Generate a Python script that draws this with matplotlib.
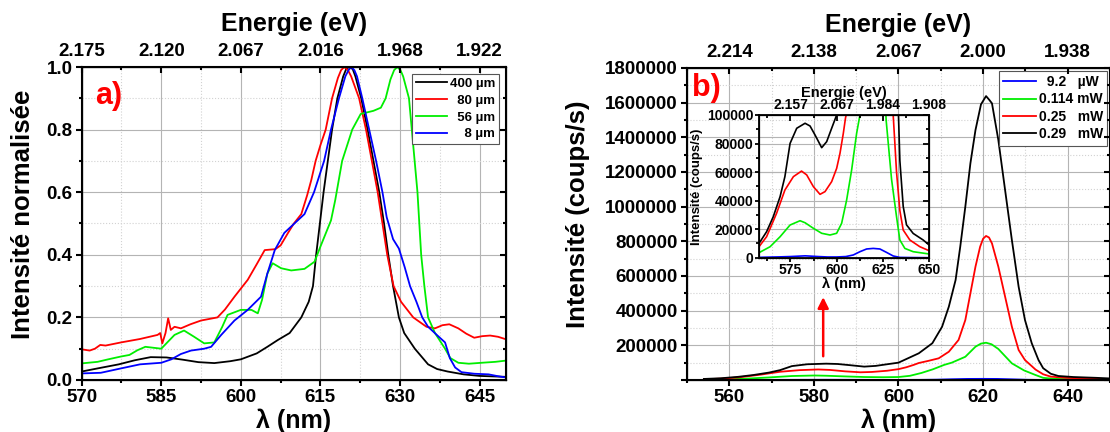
import matplotlib
matplotlib.use("Agg")
import matplotlib.pyplot as plt
from matplotlib.ticker import MultipleLocator, FuncFormatter

plt.rcParams["font.family"] = ["Liberation Sans", "DejaVu Sans"]
plt.rcParams["font.weight"] = "bold"
plt.rcParams["axes.labelweight"] = "bold"

HC = 1240.0  # eV*nm, for the energy axis

# ---- panel a: normalised spectra for different sizes ----
a_labels = ["400 µm", "  80 µm", "  56 µm", "    8 µm"]
a_colors = ["#000000", "#ff0000", "#00ee00", "#0000ff"]

a_wl_400 = [570, 573, 577, 580, 583, 586, 589, 592, 595, 598, 600, 603, 605, 607, 609.2,
            611.4, 612.8, 613.6, 614.2, 614.9, 615.6, 616.4, 617.2, 618.2, 619.3, 619.9, 620.5,
            621.1, 621.6, 622.7, 623.9, 625, 626.1, 627, 627.8, 628.7, 629.8, 630.8, 632.8, 635.3,
            637, 639, 642, 645, 650]
a_int_400 = [0.027, 0.037, 0.05, 0.063, 0.073, 0.072, 0.065, 0.057, 0.054, 0.06, 0.066, 0.085,
             0.106, 0.128, 0.15, 0.2, 0.25, 0.3, 0.4, 0.5, 0.6, 0.7, 0.8, 0.9, 0.97, 0.995, 1.0,
             0.993, 0.97, 0.9, 0.8, 0.7, 0.6, 0.5, 0.4, 0.3, 0.2, 0.15, 0.1, 0.05,
             0.035, 0.027, 0.018, 0.013, 0.01]

a_wl_80 = [570, 571.5, 572.5, 573.5, 574.5, 577.4, 581, 584.3, 584.8, 585.2, 585.8, 586.3,
           586.8, 587.5, 588.7, 590.5, 592.5, 595.6, 597, 598.8, 601.3, 603, 604.5, 606.5,
           607.5, 608.9, 610, 611.4, 612.5, 613.3, 614.1, 615, 616, 617.2, 618.3, 618.9, 619.5,
           620.2, 620.8, 622.3, 623.6, 624.7, 625.8, 626.7, 627.6, 628.8, 630.2, 632.5, 635, 636.6,
           638, 639.3, 641, 642.5, 644, 645.5, 647, 648.5, 650]
a_int_80 = [0.098, 0.094, 0.1, 0.112, 0.11, 0.12, 0.131, 0.144, 0.15, 0.117, 0.15, 0.197,
            0.16, 0.17, 0.165, 0.178, 0.19, 0.2, 0.225, 0.266, 0.32, 0.37, 0.415, 0.418,
            0.43, 0.47, 0.5, 0.53, 0.59, 0.64, 0.7, 0.75, 0.8, 0.9, 0.965, 0.99, 1.0,
            0.99, 0.97, 0.9, 0.8, 0.7, 0.6, 0.5, 0.4, 0.3, 0.25, 0.2, 0.17, 0.165,
            0.175, 0.178, 0.165, 0.148, 0.135, 0.14, 0.142, 0.138, 0.13]

a_wl_56 = [570, 573, 575, 577.4, 579, 580.5, 582, 585, 587.5, 589.3, 591.2, 593.1, 595,
           596.5, 597.5, 600, 602, 603.2, 604, 605, 606, 607.6, 609.5, 612, 613.9, 615, 617,
           617.8, 619.1, 621, 622.6, 625, 626.4, 627.3, 628.2, 628.9, 629.5, 630.1, 630.6, 631.7,
           632.5, 633.3, 634, 634.6, 635.3, 636.6, 638.5, 639.5, 641, 643, 645.4, 648, 650]
a_int_56 = [0.053, 0.058, 0.066, 0.075, 0.08, 0.095, 0.106, 0.1, 0.144, 0.158, 0.138, 0.117, 0.12,
            0.17, 0.208, 0.224, 0.224, 0.213, 0.256, 0.34, 0.373, 0.357, 0.35, 0.355, 0.378, 0.426, 0.51,
            0.575, 0.7, 0.8, 0.85, 0.86, 0.87, 0.9, 0.96, 0.99, 1.0, 0.99, 0.97, 0.9,
            0.75, 0.6, 0.4, 0.3, 0.2, 0.15, 0.1, 0.07, 0.055, 0.052, 0.055, 0.058, 0.062]

a_wl_8 = [570, 573.6, 577.4, 581, 585, 586.9, 588.7, 590.6, 593.1, 594.4, 596.3, 598.8, 601.3,
          603.8, 605, 606.4, 608.2, 610.1, 612, 613.8, 615.7, 617, 618.5, 619.7, 620.3, 620.8, 621.4,
          621.9, 622.9, 624.2, 625.5, 626.7, 627.5, 628.7, 629.8, 630.9, 631.9, 633.1, 634.2, 635.3,
          637.2, 638.5, 639.4, 640.4, 641.6, 644, 646.7, 648.5, 650]
a_int_8 = [0.021, 0.023, 0.037, 0.05, 0.055, 0.066, 0.083, 0.094, 0.1, 0.106, 0.144, 0.19, 0.224,
           0.266, 0.34, 0.415, 0.47, 0.5, 0.53, 0.6, 0.7, 0.8, 0.9, 0.97, 0.99, 1.0, 0.99,
           0.97, 0.9, 0.8, 0.7, 0.6, 0.52, 0.45, 0.42, 0.36, 0.3, 0.25, 0.2, 0.17,
           0.14, 0.12, 0.07, 0.04, 0.025, 0.02, 0.018, 0.012, 0.008]

# ---- panel b: spectra for different excitation powers (coups/s) ----
b_labels = ["  9.2   µW", "0.114 mW", "0.25   mW", "0.29   mW"]
b_colors = ["#0000ff", "#00ee00", "#ff0000", "#000000"]

b_wl_92 = [554, 560, 570, 575, 583, 590, 595, 600, 605, 609, 612.6, 616.2, 619.8, 623.4, 627,
           630.6, 634.2, 640, 650]
b_int_92 = [0, 300, 600, 800, 1300, 800, 500, 500, 800, 1900, 4200, 6100, 6500, 6100, 3700,
            1200, 200, 100, 0]

b_wl_114 = [554, 558, 564, 569.4, 574.8, 580.2, 582.9, 587.4, 591.9, 596.4, 600, 602.7, 605.4,
            608.1, 610.8, 612.6, 615.8, 618.2, 619.5, 620.7, 622, 623.6, 626.8, 629.7, 632.4, 634.2,
            636.9, 641.4, 650]
b_int_114 = [2000, 3500, 7700, 14700, 22900, 25900, 24500, 20600, 17100, 15900, 17100, 24100, 40400,
             61400, 87100, 100000, 134000, 192000, 210000, 215000, 206000, 179000, 96000, 55000,
             28700, 12400, 6500, 4200, 2600]

b_wl_25 = [554, 558, 562.1, 567.5, 572, 576.6, 581, 583.8, 587.4, 591, 593.7, 597.3, 600, 601.8,
           603.6, 604.8, 607, 609.5, 611.9, 614.2, 615.8, 617, 618.2, 619.3, 620, 620.7, 621.4,
           622.1, 623.6, 625.2, 626.8, 628.4, 629.9, 631.5, 632.4, 634.2, 636, 639.6, 645, 650]
b_int_25 = [4000, 7700, 14700, 31100, 47400, 56800, 60700, 58000, 49800, 44400, 46300, 53300, 62600,
            73100, 87100, 98000, 110000, 125000, 163000, 231000, 346000, 500000, 654000, 769000,
            815000, 831000, 822000, 788000, 654000, 481000, 308000, 173000, 115000, 80000, 60000,
            33000, 19400, 12400, 7700, 4900]

b_wl_29 = [554, 558, 562.1, 565.7, 569.4, 572, 574.8, 578.4, 582.9, 585.6, 588.3, 591.9, 594.6,
           597.3, 600, 604.8, 608, 610.3, 611.9, 613.5, 614.6, 615.8, 617, 618.2, 619.5, 620.7,
           621.5, 622.1, 623.6, 625.2, 626.8, 628.4, 629.9, 631.5, 633.1, 634.2, 636, 637.8, 641.4,
           646.8, 650]
b_int_29 = [6000, 10000, 18200, 28700, 42800, 56800, 80100, 90700, 94200, 92300, 86000, 77100, 81300,
            90700, 100000, 154000, 212000, 307000, 423000, 577000, 769000, 1000000, 1250000,
            1442000, 1590000, 1638000, 1615000, 1596000, 1385000, 1096000, 808000, 538000, 346000,
            212000, 115000, 68000, 36000, 23000, 17000, 12400, 8900]

# red arrow pointing from the weak 580 nm band up to the inset
ARROW_X = 582.2
ARROW_TAIL = 121000
ARROW_HEAD = 494000

GRID_MAJOR = "#b4b4b4"
GRID_MINOR = "#d2d2d2"


def style_axes(ax, xlim, ylim, xmaj, xmin, ymaj, ymin, labelsize, spine_w=1.5):
    ax.set_xlim(*xlim)
    ax.set_ylim(*ylim)
    ax.xaxis.set_major_locator(xmaj)
    ax.xaxis.set_minor_locator(xmin)
    ax.yaxis.set_major_locator(ymaj)
    ax.yaxis.set_minor_locator(ymin)
    ax.tick_params(which="both", direction="out", width=spine_w, top=False, right=False,
                   labelsize=labelsize)
    ax.tick_params(which="major", length=4.5, pad=2)
    ax.tick_params(which="minor", length=2.5)
    for s in ax.spines.values():
        s.set_linewidth(spine_w)
    # inward ticks on the right side
    rx = ax.twinx()
    rx.set_ylim(*ylim)
    rx.yaxis.set_major_locator(ymaj)
    rx.yaxis.set_minor_locator(ymin)
    rx.tick_params(which="both", direction="in", width=spine_w, labelright=False)
    rx.tick_params(which="major", length=4.5)
    rx.tick_params(which="minor", length=2.5)
    return rx


def energy_axis(ax, xmaj, xmin, labelsize, titlesize, labelpad, pad, spine_w=1.5):
    tx = ax.twiny()
    tx.set_xlim(ax.get_xlim())
    tx.xaxis.set_major_locator(xmaj)
    tx.xaxis.set_minor_locator(xmin)
    tx.xaxis.set_major_formatter(FuncFormatter(lambda v, p: f"{HC / v:.3f}"))
    tx.tick_params(which="both", direction="in", width=spine_w, labelsize=labelsize, pad=pad)
    tx.tick_params(which="major", length=4.5)
    tx.tick_params(which="minor", length=2.5)
    tx.set_xlabel("Energie (eV)", fontsize=titlesize, fontweight="bold", labelpad=labelpad)
    return tx


def add_grid(ax, xgrid=True):
    ax.set_axisbelow(True)
    ax.grid(which="major", axis="y", color=GRID_MAJOR, lw=0.8)
    ax.grid(which="minor", axis="y", color=GRID_MINOR, lw=0.8, ls=":")
    if xgrid:
        ax.grid(which="major", axis="x", color=GRID_MAJOR, lw=0.8)
        ax.grid(which="minor", axis="x", color=GRID_MINOR, lw=0.8, ls=":")


fig = plt.figure(figsize=(11.1, 4.32), dpi=100)

# ---------------- panel a ----------------
ax_a = fig.add_axes([0.0736, 0.1204, 0.3823, 0.7245])
add_grid(ax_a)
a_series = [(a_wl_400, a_int_400), (a_wl_80, a_int_80), (a_wl_56, a_int_56), (a_wl_8, a_int_8)]
for (wl, val), col, lab in zip(a_series, a_colors, a_labels):
    ax_a.plot(wl, val, color=col, lw=1.3, label=lab)
style_axes(ax_a, (570, 650), (0, 1.0), MultipleLocator(15), MultipleLocator(7.5),
           MultipleLocator(0.2), MultipleLocator(0.1), 13.5)
ax_a.set_xlabel("λ (nm)", fontsize=18, fontweight="bold", labelpad=2)
ax_a.set_ylabel("Intensité normalisée", fontsize=18.5, fontweight="bold", va="center")
ax_a.yaxis.set_label_coords(-0.138, 0.53)
energy_axis(ax_a, MultipleLocator(15), MultipleLocator(7.5), 13.5, 18, 8.5, 5)
ax_a.text(0.031, 0.955, "a)", transform=ax_a.transAxes, color="red", fontsize=22,
          fontweight="bold", va="top", ha="left")
leg_a = ax_a.legend(loc="upper right", fontsize=9.5, frameon=True, fancybox=False,
                    edgecolor="#555555", framealpha=1, borderaxespad=0.5, handlelength=2.4,
                    handletextpad=0.2, labelspacing=0.35, borderpad=0.3)
leg_a.get_frame().set_linewidth(0.8)
leg_a.set_zorder(10)

# ---------------- panel b ----------------
ax_b = fig.add_axes([0.6189, 0.1204, 0.3811, 0.7222])
add_grid(ax_b)
b_series = [(b_wl_92, b_int_92), (b_wl_114, b_int_114), (b_wl_25, b_int_25), (b_wl_29, b_int_29)]
for (wl, val), col, lab in zip(b_series, b_colors, b_labels):
    ax_b.plot(wl, val, color=col, lw=1.3, label=lab)
style_axes(ax_b, (550, 650), (0, 1800000), MultipleLocator(20), MultipleLocator(10),
           MultipleLocator(200000), MultipleLocator(100000), 13.5)
ax_b.yaxis.set_major_formatter(FuncFormatter(lambda v, p: "" if v == 0 else f"{int(round(v))}"))
ax_b.set_xlabel("λ (nm)", fontsize=18, fontweight="bold", labelpad=2)
ax_b.set_ylabel("Intensité (coups/s)", fontsize=18.5, fontweight="bold", va="center")
ax_b.yaxis.set_label_coords(-0.258, 0.53)
energy_axis(ax_b, MultipleLocator(20), MultipleLocator(10), 13.5, 18, 8.5, 5)
ax_b.text(0.012, 0.985, "b)", transform=ax_b.transAxes, color="red", fontsize=22,
          fontweight="bold", va="top", ha="left")
ax_b.annotate("", xy=(ARROW_X, ARROW_HEAD), xytext=(ARROW_X, ARROW_TAIL),
              arrowprops=dict(arrowstyle="-|>", color="red", lw=1.8, mutation_scale=16))
leg_b = ax_b.legend(loc="upper right", fontsize=10, frameon=True, fancybox=False,
                    edgecolor="#555555", framealpha=1, borderaxespad=0.2, handlelength=2.4,
                    handletextpad=0.2, labelspacing=0.25, borderpad=0.3)
leg_b.get_frame().set_linewidth(0.8)
leg_b.set_zorder(10)

# ---------------- inset ----------------
ax_i = fig.add_axes([0.6838, 0.4035, 0.1532, 0.3303])
ax_i.patch.set_alpha(0)
ax_i.set_axisbelow(True)
ax_i.grid(which="major", axis="y", color=GRID_MAJOR, lw=0.8)
for (wl, val), col in zip(b_series, b_colors):
    ax_i.plot(wl, val, color=col, lw=1.2)
rxi = style_axes(ax_i, (558, 650), (0, 100000), MultipleLocator(25), MultipleLocator(12.5),
                 MultipleLocator(20000), MultipleLocator(10000), 10, spine_w=1.3)
rxi.patch.set_alpha(0)
ax_i.tick_params(which="major", length=3, pad=1)
ax_i.tick_params(which="minor", length=2)
ax_i.set_xlabel("λ (nm)", fontsize=10.5, fontweight="bold", labelpad=0)
ax_i.set_ylabel("Intensité (coups/s)", fontsize=9.5, fontweight="bold", va="center")
ax_i.yaxis.set_label_coords(-0.362, 0.5)
txi = energy_axis(ax_i, MultipleLocator(25), MultipleLocator(12.5), 10, 10.5, 1, 2, spine_w=1.3)
txi.patch.set_alpha(0)

fig.savefig("out.png", dpi=100)
